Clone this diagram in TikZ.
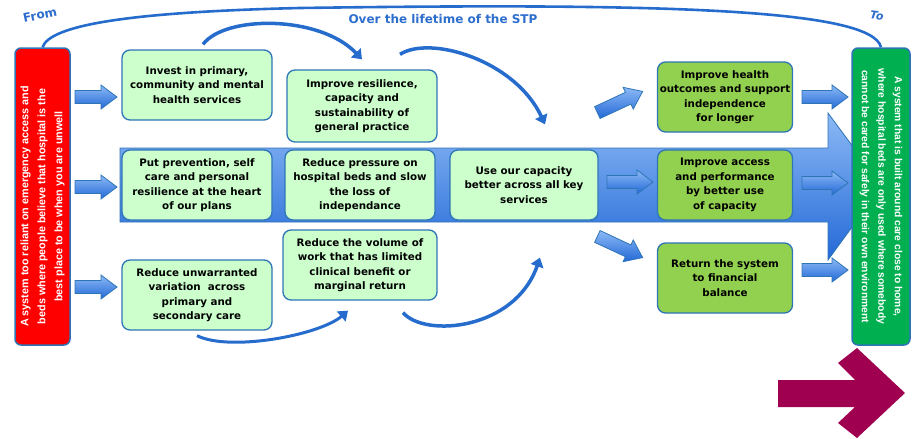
\documentclass[tikz,border=0pt]{standalone}
\usepackage{fontspec}
\setmainfont{Liberation Sans}
\newfontfamily\boxfont{DejaVu Sans}
\usetikzlibrary{arrows.meta}

\definecolor{boxfill}{RGB}{204,255,204}
\definecolor{boxedge}{RGB}{46,117,182}
\definecolor{greenfill}{RGB}{146,208,80}
\definecolor{endgreen}{RGB}{0,176,80}
\definecolor{arcblue}{RGB}{38,108,205}
\definecolor{titleblue}{RGB}{45,110,205}
\definecolor{lightblue}{RGB}{140,185,245}
\definecolor{darkblue}{RGB}{35,105,215}
\definecolor{maroonarrow}{RGB}{160,0,80}
\definecolor{startred}{RGB}{255,0,0}

% block arrow: name, x, y, angle, length
\newcommand\myblkarrow[5]{%
  \begin{scope}[shift={(#2,#3)}, rotate=#4]
    \coordinate (#1) at (0,0);
    \shade[top color=lightblue, bottom color=darkblue, draw=boxedge, line width=0.8pt]
      ({-#5/2},-6.5) -- ({#5/2-16},-6.5) -- ({#5/2-16},-12) -- ({#5/2},0)
      -- ({#5/2-16},12) -- ({#5/2-16},6.5) -- ({-#5/2},6.5) -- cycle;
  \end{scope}}

\begin{document}
\begin{tikzpicture}[x=1pt,y=-1pt,
  sbox/.style={draw=boxedge, line width=1.3pt, fill=boxfill, rounded corners=8pt,
    align=center, inner sep=0pt, text=black,
    font=\boxfont\bfseries\fontsize{10.3}{14.5}\selectfont},
  gbox/.style={sbox, fill=greenfill},
  arcarrow/.style={draw=arcblue, line width=3.5pt,
    -{Triangle[length=9pt,width=13pt]}},
  endbox/.style={draw=boxedge, line width=1.5pt, rounded corners=6pt, inner sep=0pt},
  endtext/.style={text=white, align=center, inner sep=0pt},
  label/.style={text=titleblue, font=\boxfont\bfseries\fontsize{12}{14}\selectfont, inner sep=0pt}
]
\useasboundingbox (0,0) rectangle (913,439);

% big background arrow
\shade[top color=lightblue, bottom color=darkblue, draw=boxedge, line width=0.8pt]
  (120,148) -- (828,148) -- (828,113) -- (882,186) -- (828,260) -- (828,222) -- (120,222) -- cycle;

% start and end boxes
\node[endbox, fill=startred, minimum width=55pt, minimum height=297pt] (src) at (42.5,196.5) {};
\node[endtext, rotate=90, font=\bfseries\fontsize{10.8}{17}\selectfont] (srctext) at ([yshift=-10pt]src.center)
  {A system too reliant on emergency access and\\beds where people believe that hospital is the\\best place to be when you are unwell};
\node[endbox, fill=endgreen, minimum width=58pt, minimum height=297pt] (dst) at (881,196.5) {};
\node[endtext, rotate=-90, font=\bfseries\fontsize{10.3}{16.5}\selectfont] (dsttext) at (dst.center)
  {A system that is built around care close to home,\\where hospital beds are only used where somebody\\cannot be cared for safely in their own environment};

% big top arc
\draw[draw=arcblue, line width=2.6pt] (src.north) .. controls (50,25) and (130,12) .. (300,8)
  .. controls (650,3) and (872,8) .. (dst.north);

% light green boxes
\node[sbox, minimum width=150pt, minimum height=70pt] (b1) at (197,85)
  {Invest in primary,\\community and mental\\health services};
\node[sbox, minimum width=150pt, minimum height=72pt] (b2) at (362,106)
  {Improve resilience,\\capacity and\\sustainability of\\general practice};
\node[sbox, minimum width=150pt, minimum height=70pt] (b3) at (197,185)
  {Put prevention, self\\care and personal\\resilience at the heart\\of our plans};
\node[sbox, minimum width=150pt, minimum height=70pt] (b4) at (360,185)
  {Reduce pressure on\\hospital beds and slow\\the loss of\\independance};
\node[sbox, minimum width=148pt, minimum height=70pt] (b5) at (524,185)
  {Use our capacity\\better across all key\\services};
\node[sbox, minimum width=150pt, minimum height=70pt] (b6) at (197,295)
  {Reduce unwarranted\\variation\ \ across\\primary and\\secondary care};
\node[sbox, minimum width=154pt, minimum height=70pt] (b7) at (360,265)
  {Reduce the volume of\\work that has limited\\clinical benefit or\\marginal return};

% green outcome boxes
\node[gbox, minimum width=135pt, minimum height=70pt] (g1) at (725,97)
  {Improve health\\outcomes and support\\independence\\for longer};
\node[gbox, minimum width=135pt, minimum height=70pt] (g2) at (725,185)
  {Improve access\\and performance\\by better use\\of capacity};
\node[gbox, minimum width=135pt, minimum height=70pt] (g3) at (725,278)
  {Return the system\\to financial\\balance};

% block arrows
\myblkarrow{a1}{96}{97}{0}{42}
\myblkarrow{a2}{96}{187}{0}{42}
\myblkarrow{a3}{96}{287}{0}{42}
\myblkarrow{a4}{620}{102}{25}{50}
\myblkarrow{a5}{630}{182}{0}{46}
\myblkarrow{a6}{620}{247}{-25}{50}
\myblkarrow{a7}{825}{97}{0}{46}
\myblkarrow{a8}{825}{183}{0}{46}
\myblkarrow{a9}{825}{270}{0}{46}

% curved arrows
\draw[arcarrow] ([xshift=6pt,yshift=5pt]b1.north) .. controls (225,15) and (320,15) .. ([yshift=10pt]b2.north);
\draw[arcarrow] ([xshift=38pt,yshift=15pt]b2.north) .. controls (430,35) and (515,60) .. ([xshift=21pt,yshift=25pt]b5.north);
\draw[arcarrow, line width=3pt] ([yshift=-5pt]b6.south) .. controls (230,352) and (320,335) .. ([xshift=-12pt,yshift=-10pt]b7.south);
\draw[arcarrow] ([xshift=43pt,yshift=-12pt]b7.south) .. controls (425,338) and (515,330) .. ([xshift=16pt,yshift=-37pt]b5.south);

% labels
\node[label, rotate=12] (fromlbl) at (40,15) {From};
\node[label, font=\boxfont\bfseries\itshape\fontsize{11}{13}\selectfont, rotate=-8] (tolbl) at (877,16) {To};
\node[label] (title) at (443,19) {Over the lifetime of the STP};

% maroon arrow
\fill[maroonarrow] (778,380) -- (855,380) -- (838,363) -- (857,348) -- (905,393)
  -- (857,438) -- (838,423) -- (855,407) -- (778,407) -- cycle;
\end{tikzpicture}
\end{document}
